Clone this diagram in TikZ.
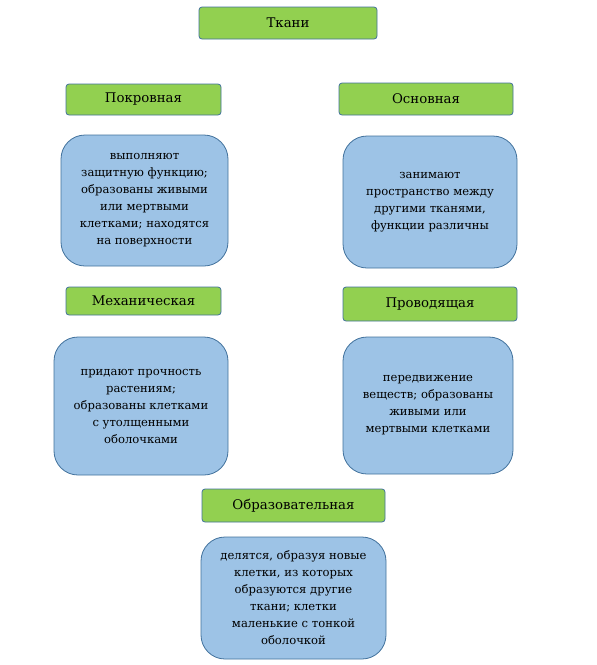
\documentclass[tikz,border=0pt]{standalone}
\usepackage{fontspec}
\setmainfont{DejaVu Serif}
\newfontfamily\dvsfont{DejaVu Serif}
\definecolor{hdrgreen}{HTML}{92D050}
\definecolor{bodyblue}{HTML}{9DC3E6}
\definecolor{edgeblue}{HTML}{41719C}
\tikzset{
  hdr/.style={draw=edgeblue, fill=hdrgreen, line width=0.8pt, rounded corners=3pt,
    font=\dvsfont\fontsize{13.3}{16}\selectfont, inner sep=0pt},
  body/.style={draw=edgeblue, fill=bodyblue, line width=0.8pt, rounded corners=24pt,
    font=\dvsfont\fontsize{11.6}{17}\selectfont, inner sep=0pt, align=center}
}
\newcommand{\mkhdr}[6]{% name, x1,y1,x2,y2, text
  \node[hdr, minimum width={#4-#2}, minimum height={#5-#3}] (#1) at ({(#2+#4)/2},{(#3+#5)/2}) {#6};}
\newcommand{\mkbody}[6]{%
  \node[body, minimum width={#4-#2}, minimum height={#5-#3}] (#1) at ({(#2+#4)/2},{(#3+#5)/2}) {#6};}
\begin{document}
\begin{tikzpicture}[x=1pt,y=-1pt]
\useasboundingbox (0,0) rectangle (597,665);
\mkhdr{root}{199}{7}{377}{39}{Ткани}
\mkhdr{h1}{66}{84}{221}{115}{Покровная}
\mkbody{b1}{61}{135}{228}{266}{выполняют\\защитную функцию;\\образованы живыми\\или мертвыми\\клетками; находятся\\на поверхности}
\mkhdr{h2}{339}{83}{513}{115}{Основная}
\mkbody{b2}{343}{136}{517}{268}{занимают\\пространство между\\другими тканями,\\функции различны}
\mkhdr{h3}{66}{287}{221}{315}{Механическая}
\mkbody{b3}{54}{337}{228}{475}{придают прочность\\растениям;\\образованы клетками\\с утолщенными\\оболочками}
\mkhdr{h4}{343}{287}{517}{321}{Проводящая}
\mkbody{b4}{343}{337}{513}{474}{передвижение\\веществ; образованы\\живыми или\\мертвыми клетками}
\mkhdr{h5}{202}{489}{385}{522}{Образовательная}
\mkbody{b5}{201}{537}{386}{659}{делятся, образуя новые\\клетки, из которых\\образуются другие\\ткани; клетки\\маленькие с тонкой\\оболочкой}
\end{tikzpicture}
\end{document}
